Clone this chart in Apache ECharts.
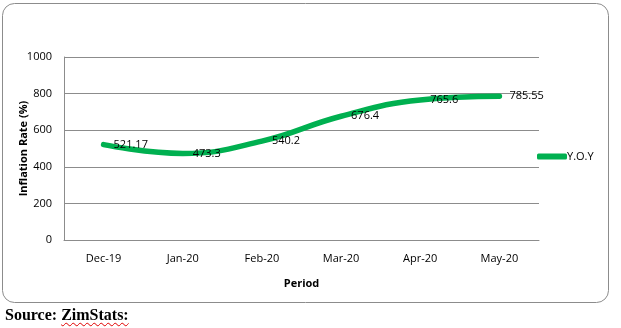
<!DOCTYPE html>
<html>
<head>
<meta charset="utf-8">
<script src="https://cdn.jsdelivr.net/npm/echarts@6/dist/echarts.min.js"></script>
<style>
  html, body { margin: 0; padding: 0; background: #fff; }
  #chart { position: absolute; left: 0; top: 0; width: 621px; height: 328px; }
  #src { position: absolute; left: 5px; top: 306px; font-family: "Liberation Serif", "Times New Roman", serif; font-weight: bold; font-size: 16px; color: #000; }
  #src span { text-decoration: underline wavy #e00000; text-decoration-thickness: 1px; text-underline-offset: 2px; }
</style>
</head>
<body>
<div id="chart"></div>
<div id="src">Source: <span>ZimStats:</span></div>
<script>
const categories = ['Dec-19', 'Jan-20', 'Feb-20', 'Mar-20', 'Apr-20', 'May-20'];
const yoyValues = [521.17, 473.3, 540.2, 676.4, 765.6, 785.55];
const seriesName = 'Y.O.Y';

const chart = echarts.init(document.getElementById('chart'), null, { renderer: 'canvas' });
const font = '"Open Sans", "Liberation Sans", sans-serif';
chart.setOption({
  animation: false,
  graphic: [{
    type: 'rect',
    shape: { x: 2.5, y: 3.5, width: 606, height: 299, r: 12 },
    style: { fill: 'none', stroke: '#8c8c8c', lineWidth: 1 },
    z: -1
  }],
  grid: { left: 64, right: 82, top: 57, bottom: 88, outerBoundsMode: 'none', containLabel: false },
  legend: {
    data: [{ name: seriesName, icon: 'roundRect' }],
    orient: 'vertical',
    left: 532,
    top: 146,
    itemWidth: 30,
    itemHeight: 6,
    itemGap: 0,
    textStyle: { fontFamily: font, fontSize: 11, color: '#000', padding: [0, 0, 0, -5] }
  },
  xAxis: {
    type: 'category',
    data: categories,
    boundaryGap: true,
    name: 'Period',
    nameLocation: 'middle',
    nameGap: 38,
    nameTextStyle: { fontFamily: font, fontSize: 11, fontWeight: 'bold', color: '#000' },
    axisLine: { show: true, lineStyle: { color: '#8c8c8c', width: 1 } },
    axisTick: { show: false },
    axisLabel: { fontFamily: font, fontSize: 11, color: '#000', margin: 13 }
  },
  yAxis: {
    type: 'value',
    min: 0,
    max: 1000,
    interval: 200,
    name: 'Inflation Rate (%)',
    nameLocation: 'middle',
    nameGap: 35,
    nameMoveOverlap: false,
    nameTextStyle: { fontFamily: font, fontSize: 11, fontWeight: 'bold', color: '#000' },
    axisLine: { show: true, lineStyle: { color: '#8c8c8c', width: 1 } },
    axisTick: { show: false },
    axisLabel: { fontFamily: font, fontSize: 11, color: '#000', margin: 12, formatter: v => String(v) },
    splitLine: { lineStyle: { color: '#8c8c8c', width: 1 } }
  },
  series: [{
    name: seriesName,
    type: 'line',
    data: yoyValues,
    smooth: 0.45,
    symbol: 'circle',
    symbolSize: 0,
    showSymbol: true,
    lineStyle: { color: '#00b050', width: 5.5, cap: 'round' },
    itemStyle: { color: '#00b050' },
    label: {
      show: true,
      position: 'right',
      distance: 10,
      fontFamily: font,
      fontSize: 11,
      color: '#000',
      formatter: p => String(p.value)
    }
  }]
});
</script>
</body>
</html>
